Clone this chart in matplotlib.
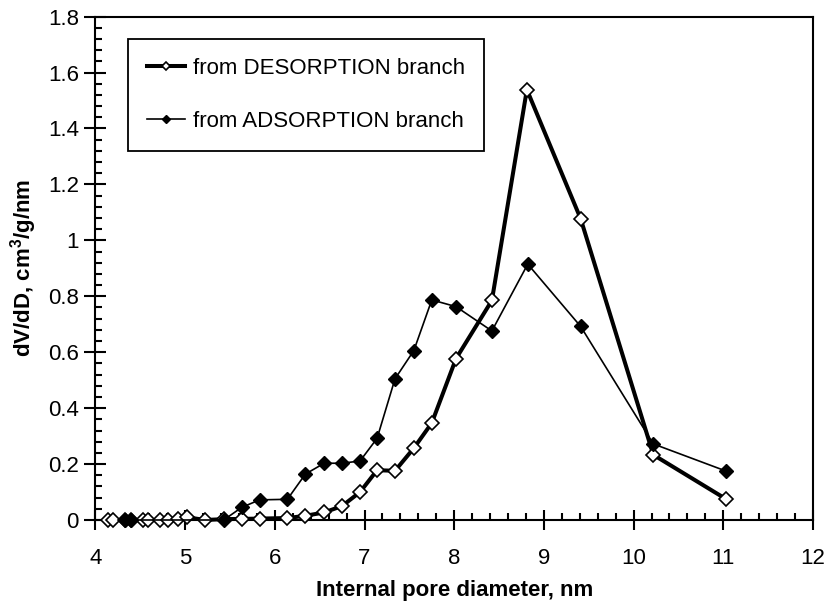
import matplotlib
matplotlib.use('Agg')
import matplotlib.pyplot as plt
from matplotlib.ticker import MultipleLocator, FuncFormatter

# pore size distribution
des_x = [4.14, 4.2, 4.33, 4.4, 4.53, 4.59, 4.72, 4.81, 4.92, 5.02, 5.22, 5.43,
         5.63, 5.83, 6.14, 6.34, 6.55, 6.75, 6.95, 7.14, 7.34, 7.55, 7.75,
         8.02, 8.42, 8.81, 9.41, 10.22, 11.03]
des_y = [0, 0, 0, 0, 0, 0, 0, 0, 0.003, 0.01, 0.0, 0.003,
         0.004, 0.005, 0.007, 0.015, 0.027, 0.05, 0.1, 0.178, 0.176, 0.257, 0.347,
         0.577, 0.785, 1.539, 1.077, 0.233, 0.075]

ads_x = [4.33, 4.4, 5.43, 5.63, 5.83, 6.14, 6.34, 6.55, 6.75, 6.95, 7.14,
         7.34, 7.55, 7.75, 8.02, 8.42, 8.82, 9.41, 10.22, 11.03]
ads_y = [0, 0, 0, 0.045, 0.072, 0.074, 0.164, 0.203, 0.203, 0.211, 0.292,
         0.505, 0.606, 0.787, 0.763, 0.676, 0.915, 0.692, 0.272, 0.175]

plt.rcParams['font.family'] = ['Liberation Sans', 'DejaVu Sans']
plt.rcParams['mathtext.fontset'] = 'custom'
plt.rcParams['mathtext.rm'] = 'Liberation Sans'
plt.rcParams['mathtext.bf'] = 'Liberation Sans:bold'

dpi = 100
fig = plt.figure(dpi=dpi, figsize=(830 / dpi, 605 / dpi))
ax = fig.add_axes([0.115, 0.1405, 0.8645, 0.832])

ax.plot(des_x, des_y, color='black', lw=2.9, marker='D', ms=7,
        mfc='white', mec='black', mew=1.2, clip_on=False, zorder=3,
        label='from DESORPTION branch')
ax.plot(ads_x, ads_y, color='black', lw=1.2, marker='D', ms=7,
        mfc='black', mec='black', clip_on=False, zorder=4,
        label='from ADSORPTION branch')

ax.set_xlim(4, 12)
ax.set_ylim(0, 1.8)
ax.xaxis.set_major_locator(MultipleLocator(1))
ax.xaxis.set_minor_locator(MultipleLocator(0.2))
ax.yaxis.set_major_locator(MultipleLocator(0.2))
ax.yaxis.set_minor_locator(MultipleLocator(0.04))
ax.yaxis.set_major_formatter(FuncFormatter(lambda v, p: '%g' % round(v, 2)))

ax.tick_params(axis='x', which='major', direction='inout', length=14, width=1.5,
               pad=13, labelsize=16)
ax.tick_params(axis='y', which='major', direction='inout', length=16, width=1.5,
               pad=4, labelsize=16)
ax.tick_params(which='minor', direction='in', length=5, width=1.5)
for s in ax.spines.values():
    s.set_linewidth(1.5)

ax.set_xlabel('Internal pore diameter, nm', fontsize=16, fontweight='bold', labelpad=8)
ax.set_ylabel(r'dV/dD, cm$^{\mathbf{3}}$/g/nm', fontsize=16, fontweight='bold', labelpad=6)

leg = ax.legend(loc='upper left', bbox_to_anchor=(0.0457, 0.9557), borderaxespad=0,
                fontsize=16, frameon=True, fancybox=False, edgecolor='black',
                framealpha=1, handlelength=1.7, handletextpad=0.35,
                labelspacing=1.45, borderpad=0.85, markerscale=0.65)
leg.get_frame().set_linewidth(1.3)

fig.savefig('out.png', dpi=dpi)
